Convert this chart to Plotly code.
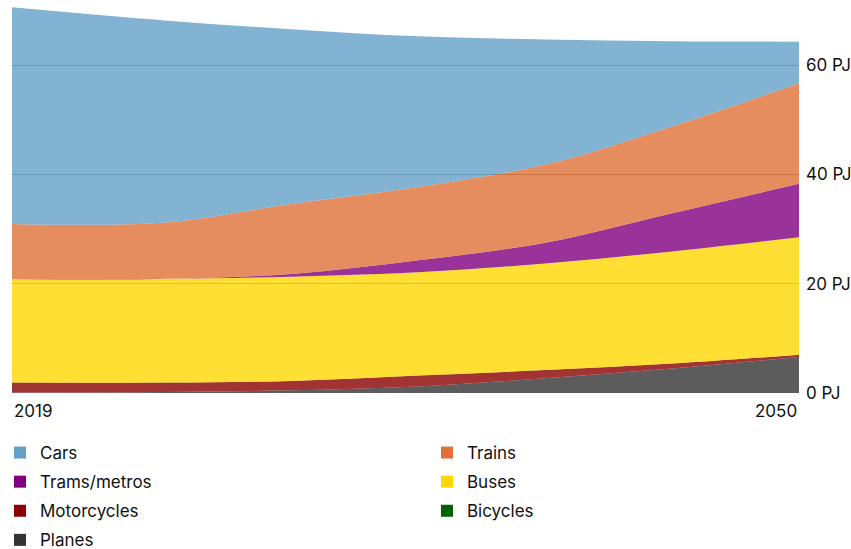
import plotly.graph_objects as go

years = [2019, 2025, 2030, 2035, 2040, 2045, 2050]
planes = [0.1, 0.2, 0.5, 1.2, 2.7, 4.5, 6.6]
bicycles = [0, 0, 0, 0, 0, 0, 0]
motorcycles = [1.8, 1.7, 1.7, 2.0, 1.5, 0.9, 0.4]
buses = [18.9, 19.0, 19.1, 18.9, 19.5, 20.5, 21.5]
trams = [0.0, 0.0, 0.5, 2.2, 3.8, 7.0, 9.8]
trains = [10.15, 10.3, 12.8, 13.4, 14.3, 15.9, 18.4]
cars = [39.65, 37.0, 32.0, 27.6, 22.9, 15.6, 7.6]

y_ticks = [0, 20, 40, 60]
y_tick_labels = ["0 PJ", "20 PJ", "40 PJ", "60 PJ"]
x_labels = ["2019", "2050"]

series = [
    ("Planes", planes, "#333333"),
    ("Bicycles", bicycles, "#006400"),
    ("Motorcycles", motorcycles, "#8b0000"),
    ("Buses", buses, "#ffd700"),
    ("Trams/metros", trams, "#800080"),
    ("Trains", trains, "#e07038"),
    ("Cars", cars, "#64a0c8"),
]

def rgba(hex_color, a):
    h = hex_color.lstrip("#")
    r, g, b = int(h[0:2], 16), int(h[2:4], 16), int(h[4:6], 16)
    return f"rgba({r},{g},{b},{a})"

FONT = "Inter, Liberation Sans, sans-serif"
TXT = "#111111"

fig = go.Figure()
for name, vals, col in series:
    fig.add_trace(go.Scatter(
        x=years, y=vals, name=name, stackgroup="one", mode="lines",
        line=dict(width=0, shape="spline", smoothing=1.0),
        fillcolor=rgba(col, 0.8), showlegend=False, hoverinfo="skip",
    ))

colors = {n: c for n, _, c in series}
legend1 = ["Cars", "Trams/metros", "Motorcycles", "Planes"]
legend2 = ["Trains", "Buses", "Bicycles"]
for lg, names in (("legend", legend1), ("legend2", legend2)):
    for n in names:
        fig.add_trace(go.Scatter(
            x=[None], y=[None], mode="markers", name=n, legend=lg,
            legendgroup=n,
            marker=dict(symbol="square", size=12, color=colors[n]),
        ))

fig.add_annotation(x=years[0], y=0, xref="x", yref="paper", text=x_labels[0],
                   xanchor="left", yanchor="top", yshift=-6, showarrow=False,
                   font=dict(size=17, color=TXT, family=FONT))
fig.add_annotation(x=years[-1], y=0, xref="x", yref="paper", text=x_labels[1],
                   xanchor="right", yanchor="top", yshift=-6, showarrow=False,
                   font=dict(size=17, color=TXT, family=FONT))

leg_common = dict(orientation="v", xref="container", yref="container",
                  yanchor="top", xanchor="left", tracegroupgap=4,
                  font=dict(size=17, color=TXT, family=FONT),
                  bgcolor="rgba(0,0,0,0)", itemclick=False)

fig.update_layout(
    width=851, height=549,
    margin=dict(l=12, r=52, t=7, b=156, autoexpand=False),
    paper_bgcolor="white", plot_bgcolor="white",
    font=dict(family=FONT, size=17, color=TXT),
    xaxis=dict(range=[years[0], years[-1]], showgrid=False, zeroline=False,
               showticklabels=False, ticks="", showline=False),
    yaxis=dict(range=[0, 70.65], side="right", tickvals=y_ticks,
               ticktext=y_tick_labels, showgrid=True, gridcolor="#7a7a7a",
               gridwidth=1, zeroline=False, ticks="", showline=False,
               ticklabelstandoff=6, tickfont=dict(size=17, color=TXT, family=FONT)),
    legend=dict(x=0.0, y=1 - 435 / 549, **leg_common),
    legend2=dict(x=427 / 851, y=1 - 435 / 549, **leg_common),
    showlegend=True,
)

fig.write_html("out.html", config={"displayModeBar": False})

with open("out.html", "r", encoding="utf-8") as f:
    html = f.read()
html = html.replace("<body>", '<body style="margin:0;padding:0;">', 1)
with open("out.html", "w", encoding="utf-8") as f:
    f.write(html)
